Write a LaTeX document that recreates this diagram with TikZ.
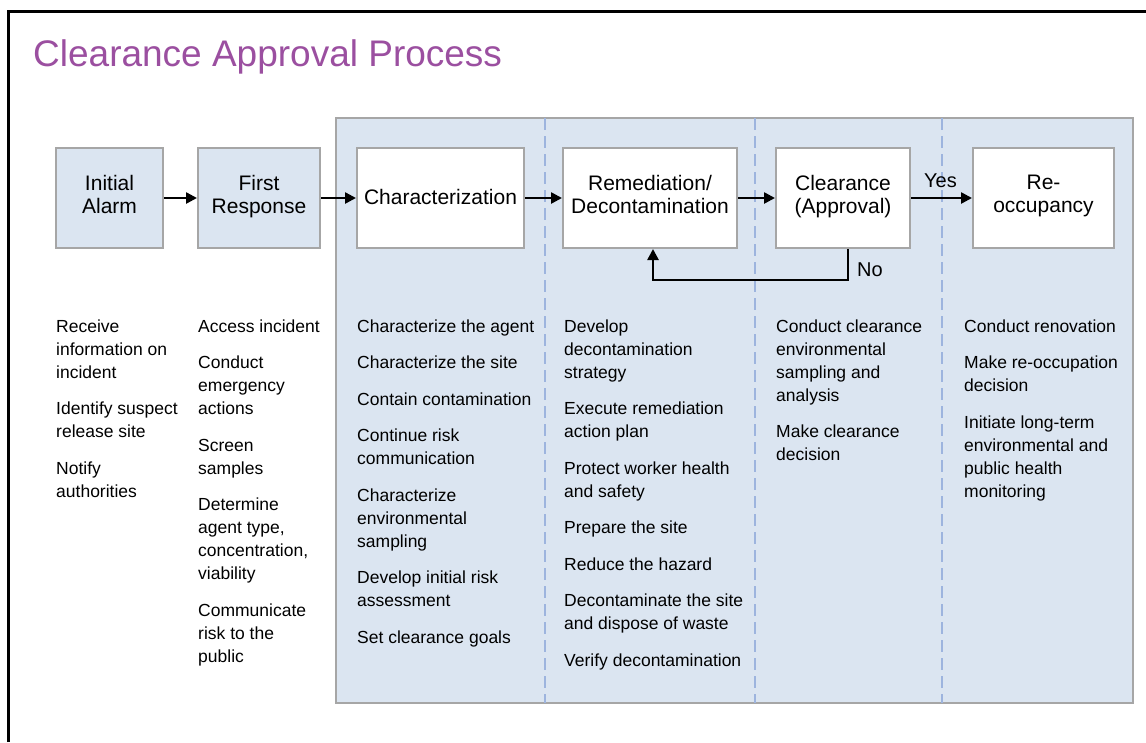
\documentclass[tikz,border=0pt]{standalone}
\usepackage{fontspec}
\setmainfont{Liberation Sans}
\usetikzlibrary{arrows.meta}
\definecolor{panelblue}{HTML}{DBE5F1}
\definecolor{boxgray}{HTML}{A6A6A6}
\definecolor{dashblue}{HTML}{9DB4DE}
\definecolor{titlepurple}{HTML}{9B4FA0}
\newcommand{\dsc}{\rule[-8pt]{0pt}{8pt}}
\begin{document}
\begin{tikzpicture}[x=1pt,y=-1pt,
 box/.style={draw=boxgray,line width=2pt,fill=white,inner sep=0pt,align=center,font=\fontsize{21}{23}\selectfont,minimum height=100pt},
 bluebox/.style={box,fill=panelblue},
 flow/.style={line width=2.5pt,-{Triangle[length=11pt,width=11pt]}},
 lane/.style={draw=dashblue,line width=2pt,dash pattern=on 12pt off 6pt},
 items/.style={anchor=north west,inner sep=0pt,align=left,font=\fontsize{17.5}{23}\selectfont},
 lbl/.style={inner sep=0pt,font=\fontsize{20}{23}\selectfont}]
\useasboundingbox (0,0) rectangle (1146,742);
\fill[white] (0,0) rectangle (1146,742);
\draw[line width=3pt] (8,742) -- (8,11) -- (1146,11);
\node[anchor=base west,inner sep=0pt,text=titlepurple,font=\fontsize{37}{40}\selectfont] (title) at (33,66) {Clearance Approval Process};
% panel
\draw[draw=boxgray,fill=panelblue,line width=2pt] (336,118) rectangle (1133,703);
\coordinate (l1t) at (545,118); \coordinate (l1b) at (545,703);
\coordinate (l2t) at (755,118); \coordinate (l2b) at (755,703);
\coordinate (l3t) at (942,118); \coordinate (l3b) at (942,703);
\draw[lane] (l1t) -- (l1b);
\draw[lane] (l2t) -- (l2b);
\draw[lane] (l3t) -- (l3b);
% boxes
\node[bluebox,minimum width=107pt] (ia) at (109.5,198) {Initial\\Alarm\dsc};
\node[bluebox,minimum width=122pt] (fr) at (259,198) {First\\Response\dsc};
\node[box,minimum width=167pt] (ch) at (440.5,198) {Characterization\rule[-2pt]{0pt}{2pt}};
\node[box,minimum width=174pt] (rd) at (650,198) {Remediation/\\Decontamination\dsc};
\node[box,minimum width=134pt] (ca) at (843,198) {Clearance\\(Approval)\dsc};
\node[box,minimum width=141pt] (ro) at (1043.5,198) {Re-\\occupancy\dsc};
% connectors
\draw[flow] (ia) -- (fr);
\draw[flow] (fr) -- (ch);
\draw[flow] (ch) -- (rd);
\draw[flow] (rd) -- (ca);
\draw[flow] (ca) -- node[lbl,above=9pt,xshift=-1pt] (yes) {Yes} (ro);
\coordinate (nodown) at (848,280);
\coordinate (noleft) at (653,280);
\draw[flow] (ca.south -| nodown) -- (nodown) -- (noleft) -- (rd.south -| noleft);
\node[lbl,anchor=west] (no) at (857,270) {No};
% item lists
\node[items] (c1) at (56,319.5) {Receive\\information on\\incident\\[13.5pt]Identify suspect\\release site\\[13.5pt]Notify\\authorities};
\node[items] (c2) at (198,319.5) {Access incident\\[13.5pt]Conduct\\emergency\\actions\\[13.5pt]Screen\\samples\\[13.5pt]Determine\\agent type,\\concentration,\\viability\\[13.5pt]Communicate\\risk to the\\public};
\node[items] (c3) at (357,319.5) {Characterize the agent\\[13.5pt]Characterize the site\\[13.5pt]Contain contamination\\[13.5pt]Continue risk\\communication\\[13.5pt]Characterize\\environmental\\sampling\\[13.5pt]Develop initial risk\\assessment\\[13.5pt]Set clearance goals};
\node[items] (c4) at (564,319.5) {Develop\\decontamination\\strategy\\[13.5pt]Execute remediation\\action plan\\[13.5pt]Protect worker health\\and safety\\[13.5pt]Prepare the site\\[13.5pt]Reduce the hazard\\[13.5pt]Decontaminate the site\\and dispose of waste\\[13.5pt]Verify decontamination};
\node[items] (c5) at (776,319.5) {Conduct clearance\\environmental\\sampling and\\analysis\\[13.5pt]Make clearance\\decision};
\node[items] (c6) at (964,319.5) {Conduct renovation\\[13.5pt]Make re-occupation\\decision\\[13.5pt]Initiate long-term\\environmental and\\public health\\monitoring};
\end{tikzpicture}
\end{document}
